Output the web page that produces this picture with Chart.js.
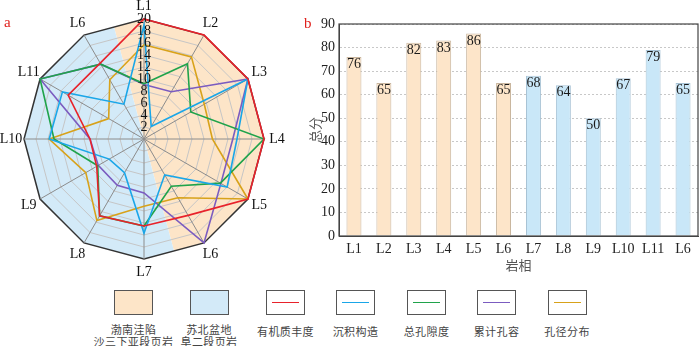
<!DOCTYPE html>
<html>
<head>
<meta charset="utf-8">
<script src="https://cdn.jsdelivr.net/npm/chart.js@4.4.1/dist/chart.umd.min.js"></script>
<style>
  html,body{margin:0;padding:0;background:#fff;width:700px;height:346px;overflow:hidden;}
  #radarBox{position:absolute;left:-6px;top:-11px;width:300px;height:300px;}
  #barBox{position:absolute;left:300px;top:0;width:400px;height:274px;}
  .tag{position:absolute;color:#e0201c;font-family:"Liberation Serif",serif;font-size:15px;z-index:2;}
  .lg{position:absolute;top:290px;width:39px;height:25px;box-sizing:border-box;border:1.5px solid #555;background:#fff;}
  .lg i{position:absolute;left:5px;right:5px;top:10.5px;height:1.6px;}
  .lt{position:absolute;width:120px;margin-left:-60px;text-align:center;font-family:"Noto Sans CJK SC",sans-serif;font-size:11px;line-height:12.5px;color:#444;letter-spacing:0.4px;white-space:nowrap;}
</style>
</head>
<body>
<div id="radarBox"><canvas id="radar"></canvas></div>
<div id="barBox"><canvas id="bar"></canvas></div>
<div class="tag" style="left:4px;top:14px;">a</div>
<div class="tag" style="left:304px;top:15px;">b</div>
<div id="legend"></div>
<script>
// ---------- data ----------
const radarLabels = ['L1','L2','L3','L4','L5','L6','L7','L8','L9','L10','L11','L6'];
const organicRichness = [20,20,20,20,20,14.7,14.5,14.8,9.1,9,14.6,14.6];     // 有机质丰度
const sedimentStructure = [19,2.4,20,15.5,16,6.9,15.7,6.5,6.7,15.8,15.7,6.7]; // 沉积构造
const totalPorosity = [9.2,14.5,9,20,14.7,9.1,14.5,14.8,8.9,15,20,14.4];      // 总孔隙度
const cumPoreVolume = [9.1,9.1,20,14.8,14.8,20,9,8.9,8.8,9,20,14.4];          // 累计孔容
const poreSizeDist = [15.7,15.8,11.6,11.4,20,11.3,11.2,15.7,11.2,15.8,6.8,11.4]; // 孔径分布
const radarTicks = [2,4,6,8,10,12,14,16,18,20];

const barLabels = ['L1','L2','L3','L4','L5','L6','L7','L8','L9','L10','L11','L6'];
const totalScores = [76,65,82,83,86,65,68,64,50,67,79,65];
const barGroup = [0,0,0,0,0,0,1,1,1,1,1,1];   // 0 = 渤南洼陷, 1 = 苏北盆地
const yTicks = [0,10,20,30,40,50,60,70,80,90];
const yTitle = '总分';
const xTitle = '岩相';

const groupNames = [['渤南洼陷','沙三下亚段页岩'],['苏北盆地','阜二段页岩']];
const seriesNames = ['有机质丰度','沉积构造','总孔隙度','累计孔容','孔径分布'];

// ---------- styles ----------
const groupFill = ['#fde5c9','#c9e7f8'];
const groupBorder = ['#c8b59e','#a7c2d4'];
const sectorFill = ['#fde5c8','#d3eaf8'];
const seriesColors = ['#e8222b','#1aa6e8','#20a34b','#7b5cc0','#d8a21a'];
const serif = '"Liberation Serif", "Times New Roman", serif';
const cjk = '"Noto Sans CJK SC", sans-serif';

// ---------- radar ----------
const sectorPlugin = {
  id:'sectors',
  beforeDraw(chart){
    const s = chart.scales.r;
    const n = chart.data.labels.length;
    const d = s.getDistanceFromCenterForValue(s.max);
    const P = i => s.getPointPosition(((i % n) + n) % n, d);
    const mid = (a,b) => { const p=P(a), q=P(b); return {x:(p.x+q.x)/2, y:(p.y+q.y)/2}; };
    const ctx = chart.ctx;
    const half = n/2;
    [0,1].forEach(g=>{
      const start = g*half;
      ctx.save();
      ctx.beginPath();
      ctx.moveTo(s.xCenter, s.yCenter);
      let m = mid(start-1,start); ctx.lineTo(m.x,m.y);
      for(let i=start;i<start+half;i++){ const p=P(i); ctx.lineTo(p.x,p.y); }
      m = mid(start+half-1,start+half); ctx.lineTo(m.x,m.y);
      ctx.closePath();
      ctx.fillStyle = sectorFill[g];
      ctx.fill();
      ctx.restore();
    });
  },
  afterDraw(chart){
    const s = chart.scales.r;
    const d = s.getDistanceFromCenterForValue(s.max) + 13;
    const ctx = chart.ctx;
    ctx.save();
    ctx.font = '14px ' + serif;
    ctx.fillStyle = '#111';
    ctx.textAlign = 'center';
    ctx.textBaseline = 'middle';
    chart.data.labels.forEach((lab,i)=>{
      const p = s.getPointPosition(i, d);
      ctx.fillText(lab, p.x, p.y);
    });
    ctx.restore();
  }
};

const radarSeries = [organicRichness, sedimentStructure, totalPorosity, cumPoreVolume, poreSizeDist];
new Chart(document.getElementById('radar'), {
  type:'radar',
  data:{
    labels: radarLabels,
    datasets: radarSeries.map((arr,i)=>({
      label: seriesNames[i], data: arr,
      borderColor: seriesColors[i], borderWidth: 1.6,
      backgroundColor:'rgba(0,0,0,0)', fill:false,
      pointRadius:0, pointHoverRadius:0, tension:0, clip:false
    }))
  },
  options:{
    responsive:true, maintainAspectRatio:false, animation:false,
    layout:{padding:21},
    plugins:{legend:{display:false}, tooltip:{enabled:false}},
    scales:{
      r:{
        min:0, max:20,
        afterBuildTicks(scale){ scale.ticks = [0, ...radarTicks].map(v=>({value:v})); },
        ticks:{stepSize:2, showLabelBackdrop:false, color:'#111', z:1,
               font:{family:serif, size:14}},
        grid:{ color: c => c.tick && c.tick.value===20 ? '#333' : '#c6c6c6',
               lineWidth: c => c.tick && c.tick.value===20 ? 1.5 : 1 },
        angleLines:{color:'#8c8c8c', lineWidth:1},
        pointLabels:{display:false}
      }
    }
  },
  plugins:[sectorPlugin]
});

// ---------- bar ----------
const barTextPlugin = {
  id:'barText',
  afterDatasetsDraw(chart){
    const ctx = chart.ctx;
    const meta = chart.getDatasetMeta(0);
    ctx.save();
    ctx.font = '14px ' + serif;
    ctx.fillStyle = '#1a1a1a';
    ctx.textAlign = 'center';
    ctx.textBaseline = 'top';
    meta.data.forEach((el,i)=>{
      ctx.fillText(String(chart.data.datasets[0].data[i]), el.x, el.y + 0.5);
    });
    ctx.restore();
  },
  afterDraw(chart){
    const a = chart.chartArea, ctx = chart.ctx;
    ctx.save();
    ctx.strokeStyle = '#444'; ctx.lineWidth = 1.2;
    ctx.strokeRect(a.left, a.top, a.right-a.left, a.bottom-a.top);
    // rotated y-axis title, centred on the plot height
    ctx.translate(a.left - 24, (a.top + a.bottom)/2);
    ctx.rotate(-Math.PI/2);
    ctx.font = '13px ' + cjk;
    ctx.fillStyle = '#555';
    ctx.textAlign = 'center';
    ctx.textBaseline = 'middle';
    ctx.fillText(yTitle, 0, 0);
    ctx.restore();
  }
};

new Chart(document.getElementById('bar'), {
  type:'bar',
  data:{
    labels: barLabels,
    datasets:[{
      data: totalScores,
      backgroundColor: barGroup.map(g=>groupFill[g]),
      borderColor: barGroup.map(g=>groupBorder[g]),
      borderWidth:1,
      barPercentage:0.5, categoryPercentage:1.0
    }]
  },
  options:{
    responsive:true, maintainAspectRatio:false, animation:false,
    layout:{padding:{top:24,right:2,left:0,bottom:0}},
    plugins:{legend:{display:false}, tooltip:{enabled:false}},
    scales:{
      x:{
        grid:{display:false, drawTicks:false},
        border:{display:true, color:'#444'},
        ticks:{color:'#222', padding:5, font:{family:serif, size:14}, maxRotation:0, autoSkip:false},
        title:{display:true, text:xTitle, color:'#555', font:{family:cjk, size:13}, padding:{top:0,bottom:1}},
        afterFit(s){ s.height = 38; }
      },
      y:{
        min:0, max:90,
        afterBuildTicks(scale){ scale.ticks = yTicks.map(v=>({value:v})); },
        grid:{color:'#c8c8c8', drawTicks:false, lineWidth:1},
        border:{display:true, color:'#444', dash:[2,2]},
        ticks:{color:'#222', padding:4, font:{family:serif, size:14}},
        title:{display:false},
        afterFit(s){ s.width = 39; }
      }
    }
  },
  plugins:[barTextPlugin]
});

// ---------- legend (HTML) ----------
const lgCenters = [133.5,209,285.5,355.5,426.5,496.5,567];
const legend = document.getElementById('legend');
let html = '';
lgCenters.forEach((cx,i)=>{
  if(i<2){
    html += `<div class="lg" style="left:${cx-19.5}px;background:${sectorFill[i]};"></div>`;
    html += `<div class="lt" style="left:${cx}px;top:322.5px;">${groupNames[i][0]}<br>${groupNames[i][1]}</div>`;
  } else {
    const k = i-2;
    html += `<div class="lg" style="left:${cx-19.5}px;"><i style="background:${seriesColors[k]}"></i></div>`;
    html += `<div class="lt" style="left:${cx}px;top:325px;">${seriesNames[k]}</div>`;
  }
});
legend.innerHTML = html;
</script>
</body>
</html>
